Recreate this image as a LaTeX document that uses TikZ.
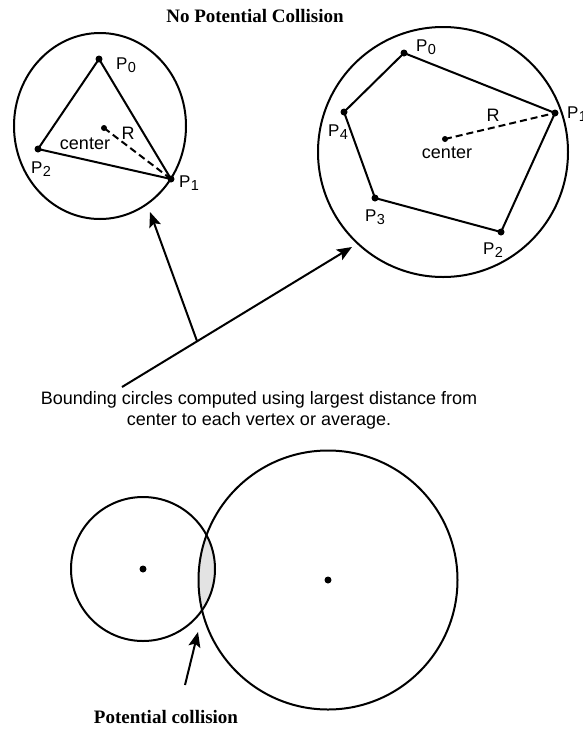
\documentclass[tikz,border=0pt]{standalone}
\usepackage{fontspec}
\setmainfont{Liberation Serif}
\setsansfont{Liberation Sans}
\usetikzlibrary{arrows.meta,shapes.geometric}
\newcommand\Plab[1]{P\kern0.3pt\raisebox{-3.5pt}{\fontsize{14.5}{14}\selectfont #1}}
\begin{document}
\begin{tikzpicture}[x=1pt,y=-1pt,
  dot/.style={circle,fill=black,inner sep=0pt,minimum size=7pt},
  ln/.style={line width=2pt},
  dsh/.style={line width=2pt,dash pattern=on 7pt off 4pt},
  lbl/.style={font=\sffamily\fontsize{18}{21}\selectfont,inner sep=0pt},
  plbl/.style={font=\sffamily\fontsize{17}{18}\selectfont,inner sep=0pt},
  ttl/.style={font=\bfseries\fontsize{19}{22}\selectfont,inner sep=0pt},
  ring/.style={draw,line width=2pt,circle,inner sep=0pt},
  arr/.style={line width=2pt,-{Stealth[length=15pt,width=12pt,inset=3pt]}}]
\clip (0,0) rectangle (583,729);
\fill[white] (0,0) rectangle (583,729);

% title
\node[ttl] (title) at (255,16) {No Potential Collision};

% triangle and its bounding circle
\node[draw,line width=2pt,ellipse,inner sep=0pt,minimum width=172pt,minimum height=186pt] (c1) at (100,126) {};
\node[dot] (t0) at (99,59) {};
\node[dot] (t1) at (171,179) {};
\node[dot] (t2) at (38,149) {};
\node[dot,minimum size=6pt] (tc) at (104,128) {};
\draw[ln,line join=round] (t0.center) -- (t1.center) -- (t2.center) -- cycle;
\draw[dsh] (tc.center) -- (t1.center);
\node[plbl] (lt0) at (126,65) {\Plab{0}};
\node[plbl] (lt1) at (189,183) {\Plab{1}};
\node[plbl] (lt2) at (41,169) {\Plab{2}};
\node[lbl] (ltc) at (85,144) {center};
\node[lbl] (ltr) at (128,133) {R};

% pentagon and its bounding circle
\node[ring,minimum size=250pt] (c2) at (443,152) {};
\node[dot] (q0) at (404,53) {};
\node[dot] (q1) at (555,113) {};
\node[dot] (q2) at (501,232) {};
\node[dot] (q3) at (375,198) {};
\node[dot] (q4) at (344,112) {};
\node[dot,minimum size=6pt] (qc) at (445,139) {};
\draw[ln,line join=round] (q0.center) -- (q1.center) -- (q2.center) -- (q3.center) -- (q4.center) -- cycle;
\draw[dsh] (qc.center) -- (q1.center);
\node[plbl] (lq0) at (426,47) {\Plab{0}};
\node[plbl,anchor=west] (lq1) at (567,114) {\Plab{1}};
\node[plbl] (lq2) at (493,250) {\Plab{2}};
\node[plbl] (lq3) at (375,217) {\Plab{3}};
\node[plbl] (lq4) at (338,132) {\Plab{4}};
\node[lbl] (lqc) at (447,153) {center};
\node[lbl] (lqr) at (493,115) {R};

% pointer arrows
\coordinate (a0) at (122,387);
\coordinate (a1) at (197,341);
\coordinate (tipA) at (150,212);
\coordinate (tipB) at (352,247);
\draw[arr] (a0) -- (tipB);
\draw[arr] (a1) -- (tipA);

% caption
\node[lbl,align=center] (cap) at (259,410) {Bounding circles computed using largest distance from\\center to each vertex or average.};

% colliding circles
\coordinate (s0) at (143,569);
\coordinate (b0) at (328,580);
\begin{scope}
  \clip (s0) circle[radius=72pt];
  \fill[gray!22] (b0) circle[radius=129.5pt];
\end{scope}
\node[ring,minimum size=144pt] (cs) at (s0) {};
\node[ring,minimum size=259pt] (cb) at (b0) {};
\node[dot] (ds) at (s0) {};
\node[dot] (db) at (b0) {};
\coordinate (pa) at (185,685);
\coordinate (pt) at (198,632);
\draw[arr] (pa) -- (pt);
\node[ttl] (coll) at (166,717) {Potential collision};
\end{tikzpicture}
\end{document}
